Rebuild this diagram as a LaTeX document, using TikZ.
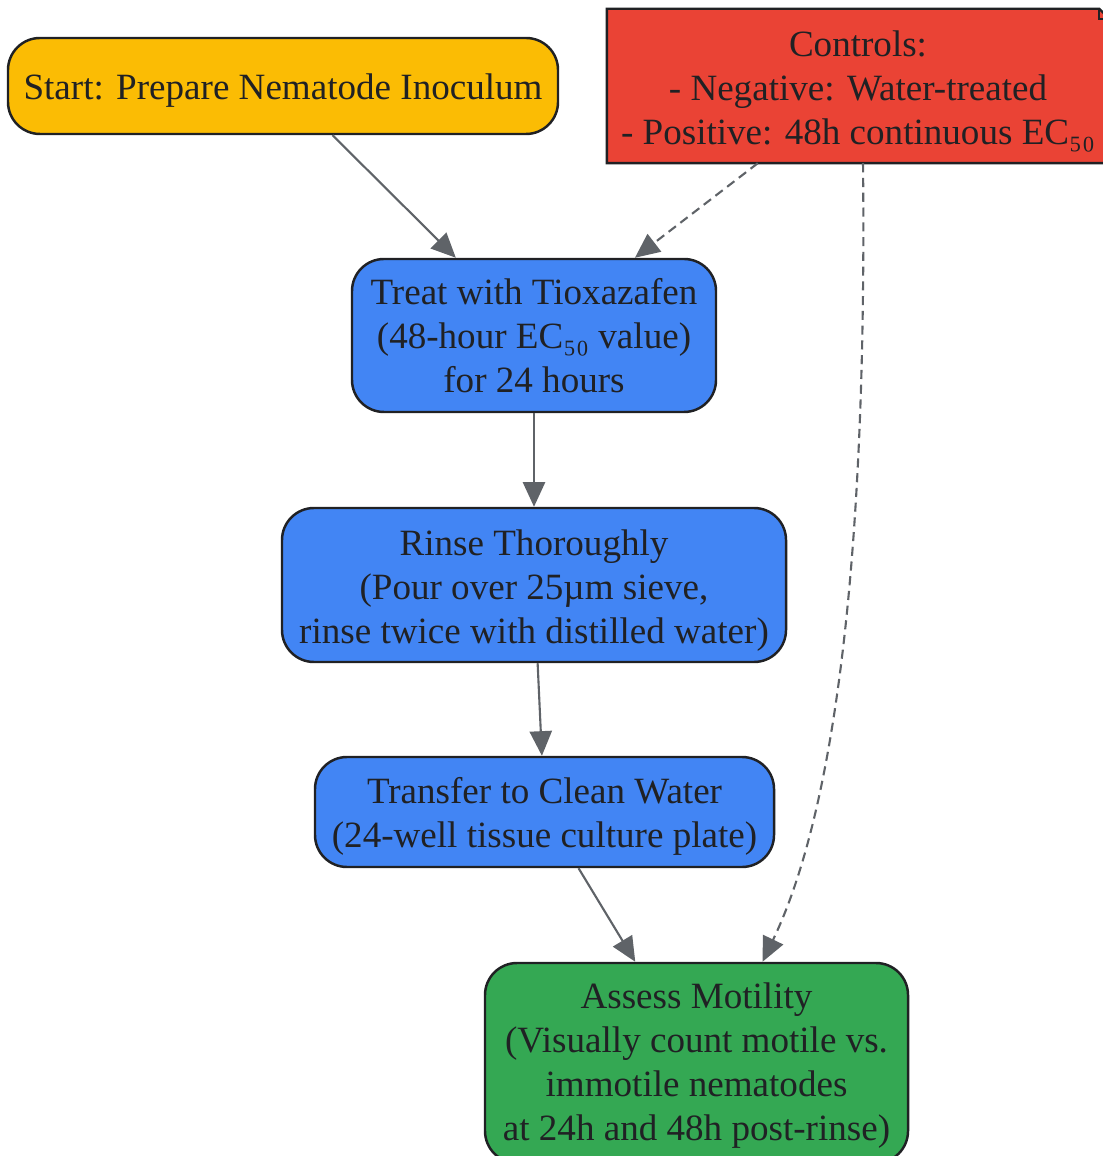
\documentclass[tikz,border=0pt]{standalone}
\usepackage{fontspec}
\setmainfont{Liberation Serif}
\usetikzlibrary{arrows.meta,calc}

\definecolor{startfill}{HTML}{FBBC04}
\definecolor{ctrlfill}{HTML}{EA4335}
\definecolor{stepfill}{HTML}{4285F4}
\definecolor{endfill}{HTML}{34A853}
\definecolor{edgegray}{HTML}{5F6368}
\definecolor{inkdark}{HTML}{202124}

\tikzset{
 box/.style={draw=inkdark, line width=0.7pt, rounded corners=0.32cm,
  align=center, inner sep=0pt, text=inkdark,
  font=\fontsize{10.55}{12.5}\selectfont},
 flow/.style={draw=edgegray, line width=0.6pt,
  -{Triangle[length=7pt,width=6.3pt]}},
 ctrlflow/.style={flow, dash pattern=on 2.6pt off 1.6pt}
}

\newcommand{\lift}[1]{\rule{0pt}{#1}} % pushes a text down in its box

\begin{document}
\begin{tikzpicture}

\useasboundingbox (0,0) rectangle (11.02,-11.56);

\def\fold {0.1}

% boxes
\node[box, fill=startfill, minimum width=5.50cm, minimum height=0.96cm]
 (start) at (2.83,-0.86) {\lift{10.2pt}Start: Prepare Nematode Inoculum};
\node[box, draw=none, rounded corners=0pt, minimum width=5.00cm, minimum height=1.52cm]
 (ctrl) at (8.58,-0.86) {};
\node[box, fill=stepfill, minimum width=3.64cm, minimum height=1.53cm]
 (treat) at (5.34,-3.355)
 {Treat with Tioxazafen\\(48-hour EC₅₀ value)\\for 24 hours};
\node[box, fill=stepfill, minimum width=5.04cm, minimum height=1.54cm]
 (rinse) at (5.34,-5.85)
 {\lift{10.6pt}Rinse Thoroughly\\(Pour over 25µm sieve,\\rinse twice with distilled water)};
\node[box, fill=stepfill, minimum width=4.59cm, minimum height=1.10cm]
 (transfer) at (5.445,-8.12)
 {\lift{10pt}Transfer to Clean Water\\(24-well tissue culture plate)};
\node[box, fill=endfill, minimum width=4.23cm, minimum height=2.00cm]
 (assess) at (6.965,-10.63)
 {\lift{8.9pt}Assess Motility\\(Visually count motile vs.\\immotile nematodes\\at 24h and 48h post-rinse)};

% note with folded corner
\filldraw[fill=ctrlfill, draw=inkdark, line width=0.7pt]
 (ctrl.north west) -- ($(ctrl.north east)+(-\fold,0)$)
 -- ($(ctrl.north east)+(0,-\fold)$) -- (ctrl.south east) -- (ctrl.south west) -- cycle;
\draw[inkdark, line width=0.7pt] ($(ctrl.north east)+(-\fold,0)$)
 -- ($(ctrl.north east)+(-\fold,-\fold)$) -- ($(ctrl.north east)+(0,-\fold)$);
\node[box, draw=none] (ctrltext) at (ctrl)
 {\lift{10.6pt}Controls:\\- Negative: Water-treated\\- Positive: 48h continuous EC₅₀};

% connectors
\draw[flow] (start) -- (treat);
\draw[ctrlflow] (ctrl) -- (treat);
\draw[flow] (treat) -- (rinse);
\draw[flow] (rinse) -- (transfer);
\draw[flow] (transfer) -- (assess);
\draw[ctrlflow] ($(ctrl.south)+(0.05,0)$) .. controls +(0.04,-3.9) and +(0.73,1.52)
 .. ($(assess.north)+(0.66,0)$);

\end{tikzpicture}
\end{document}
